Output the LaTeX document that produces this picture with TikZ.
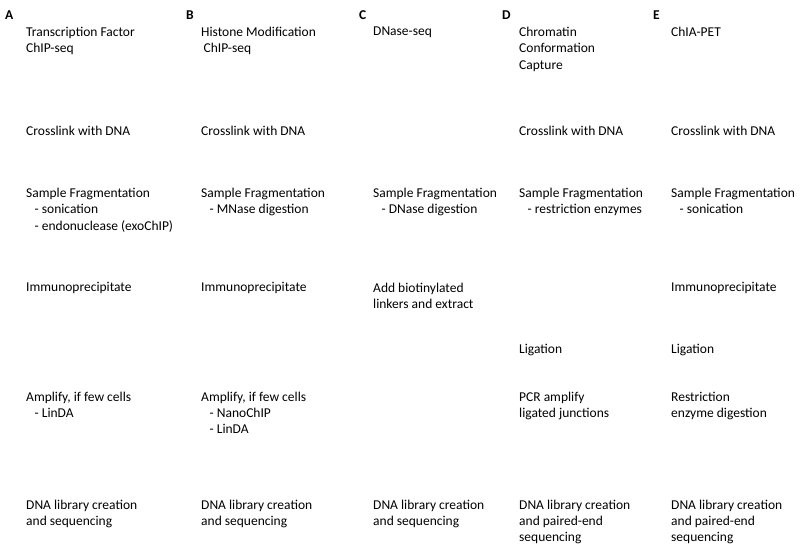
\documentclass[tikz,border=0pt]{standalone}
\usepackage{fontspec}
\setmainfont{Carlito}
\usetikzlibrary{positioning}

\tikzset{
	panel/.style={anchor=west,inner sep=0pt,font=\fontsize{13.5}{16.3}\selectfont\bfseries},
	stage/.style={anchor=north west,inner sep=0pt,align=left,font=\fontsize{13.5}{16.4}\selectfont}
}
\newcommand{\sub}{\hspace{8.5pt}}

\begin{document}
\begin{tikzpicture}[x=1pt,y=-1pt]
	\useasboundingbox (0,0) rectangle (800,550);
	\node[panel] (labA) at (5,15) {A};
	\node[panel] (labB) at (186,15) {B};
	\node[panel] (labC) at (359,15) {C};
	\node[panel] (labD) at (502,15) {D};
	\node[panel] (labE) at (653,15) {E};

	\node[stage] (tfTitle) at (26,27) {Transcription Factor\\ChIP-seq};
	\node[stage] (tfCross) at (26,125.5) {Crosslink with DNA};
	\node[stage] (tfFrag) at (26,188) {Sample Fragmentation\\\sub- sonication\\\sub- endonuclease (exoChIP)};
	\node[stage] (tfIP) at (26,282.5) {Immunoprecipitate};
	\node[stage] (tfAmp) at (26,391.5) {Amplify, if few cells\\\sub- LinDA};
	\node[stage] (tfLib) at (26,499.5) {DNA library creation\\and sequencing};

	\node[stage] (hmTitle) at (201,27) {Histone Modification\\\hspace{2.5pt}ChIP-seq};
	\node[stage] (hmCross) at (201,125.5) {Crosslink with DNA};
	\node[stage] (hmFrag) at (201,188) {Sample Fragmentation\\\sub- MNase digestion};
	\node[stage] (hmIP) at (201,282.5) {Immunoprecipitate};
	\node[stage] (hmAmp) at (201,391.5) {Amplify, if few cells\\\sub- NanoChIP\\\sub- LinDA};
	\node[stage] (hmLib) at (201,499.5) {DNA library creation\\and sequencing};

	\node[stage] (dnTitle) at (373,27) {DNase-seq};
	\node[stage] (dnFrag) at (373,188) {Sample Fragmentation\\\sub- DNase digestion};
	\node[stage] (dnLink) at (373,282.5) {Add biotinylated\\linkers and extract};
	\node[stage] (dnLib) at (373,499.5) {DNA library creation\\and sequencing};

	\node[stage] (ccTitle) at (519,27) {Chromatin\\Conformation\\Capture};
	\node[stage] (ccCross) at (519,125.5) {Crosslink with DNA};
	\node[stage] (ccFrag) at (519,188) {Sample Fragmentation\\\sub- restriction enzymes};
	\node[stage] (ccLig) at (519,343.5) {Ligation};
	\node[stage] (ccPCR) at (519,391.5) {PCR amplify\\ligated junctions};
	\node[stage] (ccLib) at (519,499.5) {DNA library creation\\and paired-end\\sequencing};

	\node[stage] (cpTitle) at (671,27) {ChIA-PET};
	\node[stage] (cpCross) at (671,125.5) {Crosslink with DNA};
	\node[stage] (cpFrag) at (671,188) {Sample Fragmentation\\\sub- sonication};
	\node[stage] (cpIP) at (671,282.5) {Immunoprecipitate};
	\node[stage] (cpLig) at (671,343.5) {Ligation};
	\node[stage] (cpRes) at (671,391.5) {Restriction\\enzyme digestion};
	\node[stage] (cpLib) at (671,499.5) {DNA library creation\\and paired-end\\sequencing};
\end{tikzpicture}
\end{document}
